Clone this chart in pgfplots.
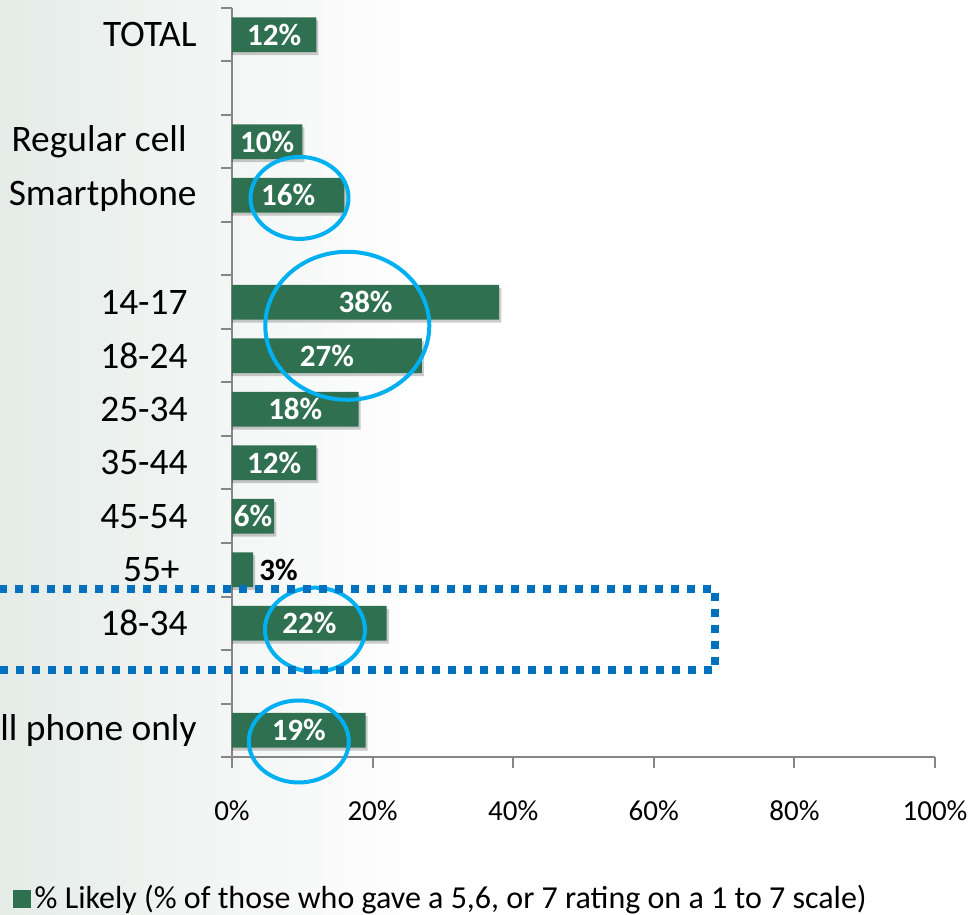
\documentclass[border=0pt]{standalone}
\usepackage{pgfplots}
\pgfplotsset{compat=1.18}
\usepackage{pgfplotstable}
\usepackage{fontspec}
\setmainfont{Carlito}
\definecolor{barg}{RGB}{47,112,80}
\definecolor{circ}{RGB}{0,176,240}
\definecolor{dotb}{RGB}{0,112,192}
\definecolor{axg}{RGB}{134,134,134}
\definecolor{bgl}{RGB}{229,236,232}

\pgfplotstableread{
y v
13 12
11 10
10 16
8 38
7 27
6 18
5 12
4 6
3 3
2 22
0 19
}\data

\begin{document}
\begin{tikzpicture}
\useasboundingbox (-116pt,-78.5pt) rectangle (370pt,378.5pt);
\fill[left color=bgl, right color=white] (-116pt,-78.5pt) rectangle (100pt,378.5pt);
\begin{axis}[
  at={(0,0)}, anchor=south west,
  scale only axis, width=351.5pt, height=374.5pt,
  xmin=0, xmax=100, ymin=-0.5, ymax=13.5,
  clip=false,
  axis lines*=left,
  axis line style={axg, line width=1pt},
  tick align=outside,
  tick style={axg, line width=1pt},
  major tick length=5.5pt,
  /pgf/number format/assume math mode=true,
  xtick={0,20,...,100},
  xticklabel={\pgfmathprintnumber{\tick}\%},
  xticklabel style={font=\fontsize{14.5}{16}\selectfont, text=black, yshift=-13pt},
  ytick={-0.5,0.5,...,13.5},
  yticklabels={},
  extra y ticks={0,2,3,4,5,6,7,8,10,11,13},
  extra y tick labels={Cell phone only,18-34\hspace*{4.5pt},55+\hspace*{8.5pt},45-54\hspace*{4.5pt},35-44\hspace*{4.5pt},25-34\hspace*{4.5pt},18-24\hspace*{4.5pt},14-17\hspace*{4.5pt},Smartphone,Regular cell\hspace*{5pt},TOTAL},
  extra y tick style={major tick length=0pt, yticklabel style={font=\fontsize{18.7}{20}\selectfont, text=black, anchor=east, inner sep=0pt, xshift=-17.5pt}},
  legend style={draw=none, fill=none, at={(rel axis cs:-0.3125,-0.189)}, anchor=west, font=\fontsize{16}{18}\selectfont, inner sep=0pt},
  legend image code/.code={\fill[barg] (0pt,-4.5pt) rectangle (9pt,4.5pt);},
]
\addplot[forget plot, xbar, bar shift=-1.5pt, bar width=0.65, fill=black, fill opacity=0.2, draw=none]
  table[x expr=\thisrow{v}+0.3, y=y] {\data};
\addplot[xbar, bar shift=0pt, bar width=0.65, fill=barg, draw=none]
  table[x=v, y=y] {\data};
\addlegendentry{\% Likely (\% of those who gave a 5,6, or 7 rating on a 1 to 7 scale)}

\addplot[forget plot, draw=none, mark=none, restrict y to domain=4:13,
  point meta=\thisrow{v},
  nodes near coords={\pgfmathprintnumber{\pgfplotspointmeta}\%},
  nodes near coords style={anchor=center, text=white, font=\bfseries\fontsize{15.5}{17}\selectfont}]
  table[x expr=\thisrow{v}/2, y=y] {\data};
\addplot[forget plot, draw=none, mark=none, restrict y to domain=0:2,
  point meta=\thisrow{v},
  nodes near coords={\pgfmathprintnumber{\pgfplotspointmeta}\%},
  nodes near coords style={anchor=center, text=white, font=\bfseries\fontsize{15.5}{17}\selectfont}]
  table[x expr=\thisrow{v}/2, y=y] {\data};
\addplot[forget plot, draw=none, mark=none, restrict y to domain=3:3,
  point meta=\thisrow{v},
  nodes near coords={\pgfmathprintnumber{\pgfplotspointmeta}\%},
  nodes near coords style={anchor=west, inner sep=0pt, xshift=3pt, text=black, font=\bfseries\fontsize{15.5}{17}\selectfont}]
  table[x=v, y=y] {\data};

\draw[circ, line width=2pt] (axis cs:9.6,9.95) ellipse [x radius=24.5pt, y radius=20.5pt];
\draw[circ, line width=2pt] (axis cs:16.4,7.56) ellipse [x radius=41pt, y radius=37pt];
\draw[circ, line width=2pt] (axis cs:11.8,1.88) ellipse [x radius=25pt, y radius=21pt];
\draw[circ, line width=2pt] (axis cs:9.5,-0.21) ellipse [x radius=25pt, y radius=20.5pt];
\draw[dotb, line width=4pt, dash pattern=on 4pt off 4pt] (axis cs:-40,2.64) -- (axis cs:68.7,2.64) -- (axis cs:68.7,1.13) -- (axis cs:-40,1.13);
\end{axis}
\end{tikzpicture}
\end{document}
